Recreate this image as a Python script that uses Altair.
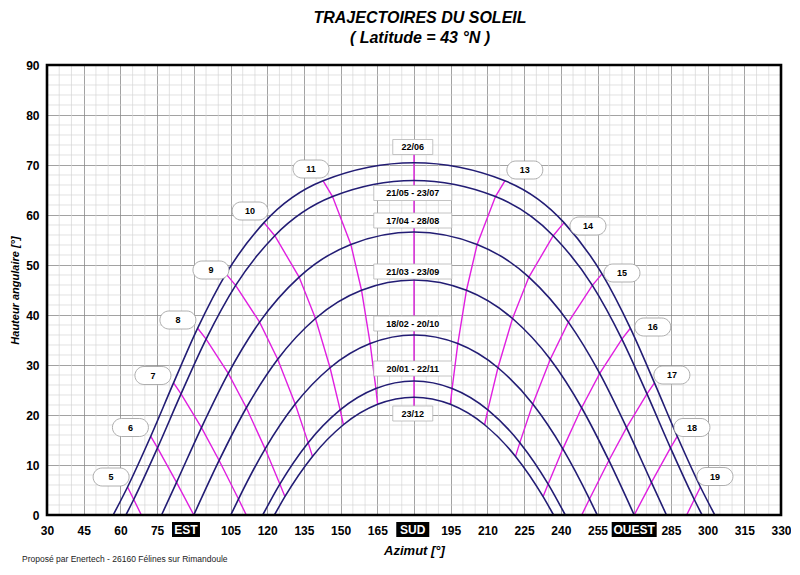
import altair as alt
import pandas as pd

# ---------------- data ----------------
DATE_LABELS = ["22/06", "21/05 - 23/07", "17/04 - 28/08", "21/03 - 23/09",
               "18/02 - 20/10", "20/01 - 22/11", "23/12"]

# solar hour of each point (None = sunrise / sunset on the horizon)
HOURS_2206 = [None, 5, 6, 7, 8, 9, 10, 11, 12, 13, 14, 15, 16, 17, 18, 19, None]
AZ_2206 = [57.05, 62.93, 72.41, 81.72, 91.58, 103.15, 118.69, 142.86, 180.0,
           217.14, 241.31, 256.85, 268.42, 278.28, 287.59, 297.07, 302.95]
ALT_2206 = [0, 5.60, 15.74, 26.42, 37.36, 48.22, 58.47, 66.84, 70.44,
            66.84, 58.47, 48.22, 37.36, 26.42, 15.74, 5.60, 0]

HOURS_2105 = [None, 5, 6, 7, 8, 9, 10, 11, 12, 13, 14, 15, 16, 17, 18, 19, None]
AZ_2105 = [62.26, 65.45, 75.17, 84.78, 95.03, 107.10, 123.10, 146.70, 180.0,
           213.30, 236.90, 252.90, 264.97, 275.22, 284.83, 294.55, 297.74]
ALT_2105 = [0, 3.10, 13.42, 24.21, 35.17, 45.92, 55.86, 63.69, 66.90,
            63.69, 55.86, 45.92, 35.17, 24.21, 13.42, 3.10, 0]

HOURS_1704 = [None, 6, 7, 8, 9, 10, 11, 12, 13, 14, 15, 16, 17, 18, None]
AZ_1704 = [76.82, 82.95, 93.13, 104.09, 116.89, 133.04, 154.19, 180.0,
           205.81, 226.96, 243.11, 255.91, 266.87, 277.05, 283.18]
ALT_1704 = [0, 6.53, 17.48, 28.31, 38.58, 47.58, 54.12, 56.60,
            54.12, 47.58, 38.58, 28.31, 17.48, 6.53, 0]

HOURS_2103 = [6, 7, 8, 9, 10, 11, 12, 13, 14, 15, 16, 17, 18]
AZ_2103 = [90.0, 100.36, 111.49, 124.29, 139.73, 158.55, 180.0,
           201.45, 220.27, 235.71, 248.51, 259.64, 270.0]
ALT_2103 = [0, 10.91, 21.45, 31.14, 39.30, 44.95, 47.00,
            44.95, 39.30, 31.14, 21.45, 10.91, 0]

HOURS_1802 = [None, 7, 8, 9, 10, 11, 12, 13, 14, 15, 16, 17, None]
AZ_1802 = [105.12, 108.26, 119.16, 131.45, 145.69, 162.09, 180.0,
           197.91, 214.31, 228.55, 240.84, 251.74, 254.88]
ALT_1802 = [0, 3.19, 13.23, 22.18, 29.45, 34.29, 36.00,
            34.29, 29.45, 22.18, 13.23, 3.19, 0]

HOURS_2001 = [None, 8, 9, 10, 11, 12, 13, 14, 15, 16, None]
AZ_2001 = [118.17, 125.16, 136.74, 149.82, 164.41, 180.0,
           195.59, 210.18, 223.26, 234.84, 241.83]
ALT_2001 = [0, 6.18, 14.47, 21.03, 25.31, 26.80, 25.31, 21.03, 14.47, 6.18, 0]

HOURS_2312 = [None, 8, 9, 10, 11, 12, 13, 14, 15, 16, None]
AZ_2312 = [122.95, 127.23, 138.50, 151.15, 165.15, 180.0,
           194.85, 208.85, 221.50, 232.77, 237.05]
ALT_2312 = [0, 3.68, 11.72, 18.05, 22.14, 23.56, 22.14, 18.05, 11.72, 3.68, 0]

# where hour lines meet the horizon between two dates
HORIZON_HOURS = [5, 7, 17, 19]
HORIZON_AZ = [68.55, 111.45, 248.55, 291.45]

# noon line runs from the 22/06 label down to the 23/12 label
NOON_EXT_ALT = [72.2, 21.8]

HOUR_LABELS = ["5", "6", "7", "8", "9", "10", "11", "13", "14", "15", "16", "17", "18", "19"]
HOUR_LABEL_AZ = [56.2, 64.1, 73.3, 83.5, 97.0, 113.0, 137.9,
                 225.3, 251.1, 265.0, 277.6, 285.4, 293.6, 303.0]
HOUR_LABEL_ALT = [7.6, 17.5, 27.9, 39.0, 49.0, 60.8, 69.2,
                  69.0, 57.8, 48.4, 37.6, 28.0, 17.5, 7.7]

DATE_LABEL_AZ = [179.5] * 7
DATE_LABEL_ALT = [73.6, 64.4, 58.9, 48.7, 38.3, 29.3, 20.3]

X_TICKS = [30, 45, 60, 75, 90, 105, 120, 135, 150, 165, 180, 195, 210, 225,
           240, 255, 270, 285, 300, 315, 330]
Y_TICKS = [0, 10, 20, 30, 40, 50, 60, 70, 80, 90]
CARDINAL_LABELS = ["EST", "SUD", "OUEST"]
CARDINAL_AZ = [86.8, 179.5, 270.0]

# ---------------- tables ----------------
DAYS = [
    (DATE_LABELS[0], HOURS_2206, AZ_2206, ALT_2206),
    (DATE_LABELS[1], HOURS_2105, AZ_2105, ALT_2105),
    (DATE_LABELS[2], HOURS_1704, AZ_1704, ALT_1704),
    (DATE_LABELS[3], HOURS_2103, AZ_2103, ALT_2103),
    (DATE_LABELS[4], HOURS_1802, AZ_1802, ALT_1802),
    (DATE_LABELS[5], HOURS_2001, AZ_2001, ALT_2001),
    (DATE_LABELS[6], HOURS_2312, AZ_2312, ALT_2312),
]

day_rows = []
for lab, hrs, azs, alts in DAYS:
    for h, a, e in zip(hrs, azs, alts):
        day_rows.append({"date": lab, "az": a, "alt": e})
day_df = pd.DataFrame(day_rows)

hour_rows = []
for h in range(5, 20):
    pts = []
    if h == 12:
        pts.append((180.0, NOON_EXT_ALT[0]))
    for lab, hrs, azs, alts in DAYS:
        for hh, a, e in zip(hrs, azs, alts):
            if hh == h:
                pts.append((a, e))
    for hh, a in zip(HORIZON_HOURS, HORIZON_AZ):
        if hh == h:
            pts.append((a, 0.0))
    if h == 12:
        pts.append((180.0, NOON_EXT_ALT[1]))
    for i, (a, e) in enumerate(pts):
        hour_rows.append({"hour": h, "seq": i, "az": a, "alt": e})
hour_df = pd.DataFrame(hour_rows)

hl_df = pd.DataFrame({"az": HOUR_LABEL_AZ, "alt": HOUR_LABEL_ALT, "txt": HOUR_LABELS})
dl_df = pd.DataFrame({"az": DATE_LABEL_AZ, "alt": DATE_LABEL_ALT, "txt": DATE_LABELS})
dl_short = dl_df[dl_df["txt"].str.len() <= 5]
dl_long = dl_df[dl_df["txt"].str.len() > 5]

minor_x = pd.DataFrame({"az": [v for v in range(30, 331, 5) if v % 15 != 0]})
minor_y = pd.DataFrame({"alt": [v for v in range(0, 91, 2) if v % 10 != 0]})

# ---------------- styling ----------------
W, H = 734, 450
FONT = "Liberation Sans, Arial, Helvetica, sans-serif"
TITLE_FONT = "Liberation Sans Narrow, Liberation Sans, Arial, sans-serif"
NAVY = "#221c74"
MAGENTA = "#e020e0"

xs = alt.Scale(domain=[30, 330], nice=False, zero=False)
ys = alt.Scale(domain=[0, 90], nice=False, zero=False)

AX_X = alt.Axis(
    values=X_TICKS,
    labelExpr="(datum.value == 90 || datum.value == 180 || datum.value == 270) ? '' : datum.label",
    grid=True, gridColor="#8a8a8a", gridWidth=0.8, ticks=False, domain=False,
    labelFont=FONT, labelFontSize=12, labelFontWeight="bold", labelColor="black",
    labelPadding=10, labelFlush=False, labelOverlap=False,
    title="Azimut [°]", titleFont=FONT, titleFontSize=13, titleFontStyle="italic",
    titleFontWeight="bold", titleColor="black", titlePadding=8,
)
AX_Y = alt.Axis(
    values=Y_TICKS, grid=True, gridColor="#8a8a8a", gridWidth=0.8, ticks=False,
    domain=False, labelFont=FONT, labelFontSize=12, labelFontWeight="bold",
    labelColor="black", labelPadding=8, labelFlush=False,
    title="Hauteur angulaire [°]", titleFont=FONT, titleFontSize=11,
    titleFontStyle="italic", titleFontWeight="bold", titleColor="black", titlePadding=5,
)


def X():
    return alt.X("az:Q", scale=xs, axis=AX_X)


def Y():
    return alt.Y("alt:Q", scale=ys, axis=AX_Y)


grid_v = alt.Chart(minor_x).mark_rule(color="#d6d6d6", strokeWidth=0.7).encode(x=X())
grid_h = alt.Chart(minor_y).mark_rule(color="#d6d6d6", strokeWidth=0.7).encode(y=Y())

hour_lines = alt.Chart(hour_df).mark_line(color=MAGENTA, strokeWidth=1.4).encode(
    x=X(), y=Y(), detail="hour:N", order="seq:Q")

day_lines = alt.Chart(day_df).mark_line(color=NAVY, strokeWidth=1.6, interpolate="monotone").encode(
    x=X(), y=Y(), detail="date:N")

pills = alt.Chart(hl_df).mark_rect(width=36, height=18, cornerRadius=9, fill="white",
                                   stroke="#9a9a9a", strokeWidth=0.8).encode(x=X(), y=Y())
pill_txt = alt.Chart(hl_df).mark_text(font=FONT, fontSize=9, fontWeight="bold", color="black",
                                      baseline="middle").encode(x=X(), y=Y(), text="txt:N")

dbox_s = alt.Chart(dl_short).mark_rect(width=40, height=15, fill="white",
                                       stroke="#b5b5b5", strokeWidth=0.8).encode(x=X(), y=Y())
dbox_l = alt.Chart(dl_long).mark_rect(width=78, height=15, fill="white",
                                      stroke="#b5b5b5", strokeWidth=0.8).encode(x=X(), y=Y())
dtxt = alt.Chart(dl_df).mark_text(font=FONT, fontSize=9, fontWeight="bold", color="black",
                                  baseline="middle").encode(x=X(), y=Y(), text="txt:N")

card_layers = []
for lab, az, bw in zip(CARDINAL_LABELS, CARDINAL_AZ, [28, 33, 45]):
    cdf = pd.DataFrame({"az": [az], "txt": [lab]})
    card_layers.append(alt.Chart(cdf).mark_rect(width=bw, fill="black", clip=False).encode(
        x=X(), y=alt.value(H + 7), y2=alt.value(H + 22)))
    card_layers.append(alt.Chart(cdf).mark_text(font=FONT, fontSize=12, fontWeight="bold",
                                                color="white", baseline="middle").encode(
        x=X(), y=alt.value(H + 15), text="txt:N"))

footer = alt.Chart(pd.DataFrame({"t": ["Proposé par Enertech - 26160 Félines sur Rimandoule"]})).mark_text(
    font=FONT, fontSize=8.5, color="#222", align="left", baseline="middle").encode(
    x=alt.value(-25), y=alt.value(H + 44), text="t:N")

frame = alt.Chart(pd.DataFrame({"k": [0]})).mark_rect(filled=False, stroke="black", strokeWidth=2.6).encode(
    x=alt.value(0), x2=alt.value(W), y=alt.value(0), y2=alt.value(H))

chart = alt.layer(
    grid_v, grid_h, hour_lines, day_lines, dbox_s, dbox_l, dtxt, pills, pill_txt,
    *card_layers, footer, frame
).properties(
    width=W, height=H,
    padding={"left": 39, "top": 57, "right": 10, "bottom": 52},
    autosize=alt.AutoSizeParams(type="none"),
    title=alt.TitleParams(
        text=["TRAJECTOIRES DU SOLEIL", "( Latitude = 43 °N )"],
        font=TITLE_FONT, fontSize=16, fontStyle="italic", fontWeight="bold",
        color="black", anchor="middle", offset=13, lineHeight=20, dx=6),
).configure_view(stroke=None).configure(background="white")

chart.save("out.html", embed_options={"renderer": "svg", "actions": False})
